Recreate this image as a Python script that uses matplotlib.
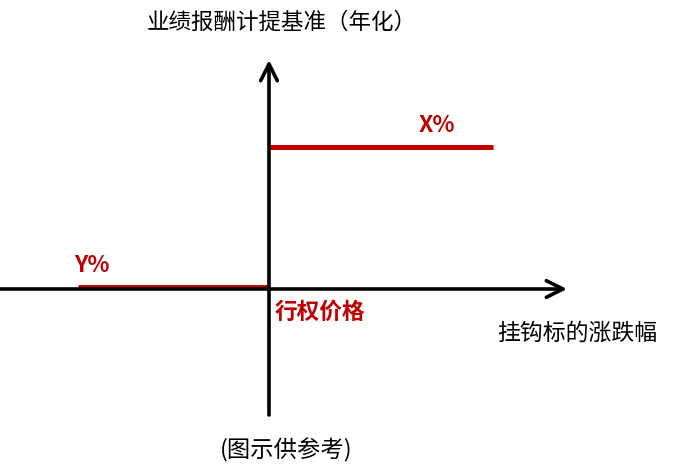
import matplotlib.pyplot as plt

plt.rcParams['font.family'] = ['Noto Sans CJK SC', 'DejaVu Sans']

# schematic coordinates (strike at origin)
strike = 0
low_x = [-191, strike]     # below strike -> Y%
low_y = [2, 2]
high_x = [strike, 224]     # above strike -> X%
high_y = [142, 142]
labels = ['Y%', 'X%']
title_y = '业绩报酬计提基准（年化）'
title_x = '挂钩标的涨跌幅'
strike_label = '行权价格'
note = '(图示供参考)'

red = '#C00000'

fig = plt.figure(figsize=(6.74, 4.77), dpi=100)
ax = fig.add_axes([0, 0, 1, 1])
ax.set_xlim(-269, 405)
ax.set_ylim(-187, 290)
ax.axis('off')

# axes arrows
ax.annotate('', xy=(298, 0), xytext=(-272, 0),
            arrowprops=dict(arrowstyle='->', lw=2.6, color='black',
                            mutation_scale=30, shrinkA=0, shrinkB=0))
ax.annotate('', xy=(0, 229), xytext=(0, -126),
            arrowprops=dict(arrowstyle='->', lw=2.6, color='black',
                            mutation_scale=30, shrinkA=0, shrinkB=0))

# payoff lines
ax.plot(low_x, low_y, color=red, lw=3.6, solid_capstyle='butt')
ax.plot(high_x, high_y, color=red, lw=3.6, solid_capstyle='butt')

ax.text(-177, 25, labels[0], color=red, fontsize=16.5, fontweight='bold',
        ha='center', va='center')
ax.text(168, 164, labels[1], color=red, fontsize=16.5, fontweight='bold',
        ha='center', va='center')
ax.text(6, -22, strike_label, color=red, fontsize=16.3, fontweight='bold',
        ha='left', va='center')

ax.text(13, 268, title_y, fontsize=16.2, ha='center', va='center')
ax.text(308, -43, title_x, fontsize=16.5, ha='center', va='center')
ax.text(17, -160, note, fontsize=16.8, ha='center', va='center')

fig.savefig('out.png', dpi=100)
